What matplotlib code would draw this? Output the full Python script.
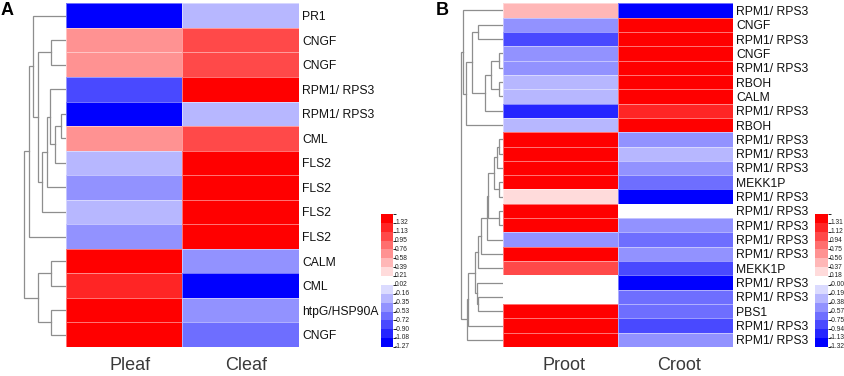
import numpy as np
import matplotlib
matplotlib.use('Agg')
import matplotlib.pyplot as plt
from matplotlib.colors import ListedColormap, BoundaryNorm
from matplotlib.colorbar import ColorbarBase

plt.rcParams['font.family'] = ['Liberation Sans', 'DejaVu Sans']

# ---- panel A (leaf) ----
genes_a = ['PR1', 'CNGF', 'CNGF', 'RPM1/ RPS3', 'RPM1/ RPS3', 'CML', 'FLS2', 'FLS2',
           'FLS2', 'FLS2', 'CALM', 'CML', 'htpG/HSP90A', 'CNGF']
pleaf = [-1.27, 0.58, 0.58, -0.90, -1.27, 0.58, -0.35, -0.53, -0.35, -0.53, 1.32, 1.13, 1.32, 1.32]
cleaf = [-0.35, 0.95, 0.95, 1.32, -0.35, 0.95, 1.32, 1.32, 1.32, 1.32, -0.53, -1.27, -0.53, -0.72]
cbar_a = ['1.32', '1.13', '0.95', '0.76', '0.58', '0.39', '0.21', '0.02',
          '-0.16', '-0.35', '-0.53', '-0.72', '-0.90', '-1.08', '-1.27']
# merges: (child, child, height); leaves 0..n-1, merge k -> n+k
tree_a = [(1, 2, 15), (4, 5, 5), (15, 6, 10.7), (3, 16, 15.7), (17, 7, 19), (18, 8, 24),
          (14, 19, 28), (0, 20, 32.3), (21, 9, 36.7), (10, 11, 15), (12, 13, 15),
          (23, 24, 28), (22, 25, 41.7)]

# ---- panel B (root) ----
genes_b = ['RPM1/ RPS3', 'CNGF', 'RPM1/ RPS3', 'CNGF', 'RPM1/ RPS3', 'RBOH', 'CALM',
           'RPM1/ RPS3', 'RBOH', 'RPM1/ RPS3', 'RPM1/ RPS3', 'RPM1/ RPS3', 'MEKK1P',
           'RPM1/ RPS3', 'RPM1/ RPS3', 'RPM1/ RPS3', 'RPM1/ RPS3', 'RPM1/ RPS3', 'MEKK1P',
           'RPM1/ RPS3', 'RPM1/ RPS3', 'PBS1', 'RPM1/ RPS3', 'RPM1/ RPS3']
proot = [0.37, -0.57, -0.94, -0.57, -0.57, -0.38, -0.38, -1.13, -0.38, 1.31, 1.31, 1.31,
         1.31, 0.18, 1.31, 1.31, -0.57, 1.31, 0.94, 0.0, 0.0, 1.31, 1.31, 1.31]
croot = [-1.32, 1.31, 1.31, 1.31, 1.31, 1.31, 1.31, 1.12, 1.31, -0.57, -0.38, -0.57,
         -0.75, -1.32, 0.0, -0.57, -0.75, -0.57, -0.94, -1.32, -0.75, -0.75, -0.94, -0.57]
cbar_b = ['1.31', '1.12', '0.94', '0.75', '0.56', '0.37', '0.18', '-0.00',
          '-0.19', '-0.38', '-0.57', '-0.75', '-0.94', '-1.13', '-1.32']
tree_b = [(1, 2, 25), (3, 4, 3.7), (5, 6, 3.7), (25, 26, 12), (27, 7, 18), (24, 28, 31),
          (29, 8, 37), (0, 30, 40), (9, 10, 3.7), (32, 11, 6.3), (12, 13, 3.7),
          (33, 34, 8.7), (14, 15, 3.7), (35, 36, 14.7), (37, 16, 16.3), (38, 17, 22),
          (39, 18, 24.7), (20, 21, 25.3), (19, 41, 26.5), (40, 42, 28), (43, 22, 34.7),
          (44, 23, 36.3), (31, 45, 42)]

W, H = 844, 376
fig = plt.figure(figsize=(W / 100, H / 100), dpi=100)


def px_axes(x0, y0, x1, y1):
    return fig.add_axes([x0 / W, 1 - y1 / H, (x1 - x0) / W, (y1 - y0) / H])


# discrete red-white-blue palette, 15 bands (top = red)
fr = np.linspace(0, 0.86, 7)
band_cols = [(1, f, f) for f in fr] + [(1, 1, 1)] + [(f, f, 1) for f in fr[::-1]]
cmap = ListedColormap(band_cols[::-1])


def make_norm(labels):
    vals = np.array([float(s) for s in labels])[::-1]
    d = np.mean(np.diff(vals))
    edges = np.concatenate([[vals[0] - d / 2], (vals[:-1] + vals[1:]) / 2, [vals[-1] + d / 2]])
    return BoundaryNorm(edges, cmap.N), edges, d


def heat(box, c1, c2, genes, cols, labels, xshift):
    ax = px_axes(*box)
    norm, edges, d = make_norm(labels)
    data = np.column_stack([c1, c2])
    ax.pcolormesh(data, cmap=cmap, norm=norm, edgecolors=(1, 1, 1, 0.45), linewidth=0.6)
    n = len(genes)
    ax.set_xlim(0, 2)
    ax.set_ylim(n, 0)
    for s in ax.spines.values():
        s.set_visible(False)
    ax.yaxis.tick_right()
    ax.set_yticks(np.arange(n) + 0.5)
    ax.set_yticklabels(genes, fontsize=8.7, color='#111111')
    ax.set_xticks(np.array([0.5, 1.5]) + xshift)
    ax.set_xticklabels(cols, fontsize=13, color='#3a3a3a')
    ax.tick_params(length=0)
    ax.tick_params(axis='y', pad=2.5)
    ax.tick_params(axis='x', pad=7.5)
    return ax, norm, edges, d


def dendro(box, tree, n, hmax):
    ax = px_axes(*box)
    ys = {i: i + 0.5 for i in range(n)}
    hs = {i: 0.0 for i in range(n)}
    for k, (a, b, h) in enumerate(tree):
        ax.plot([hs[a], h, h, hs[b]], [ys[a], ys[a], ys[b], ys[b]],
                color='#8e8e8e', lw=0.9, solid_joinstyle='miter')
        ys[n + k] = (ys[a] + ys[b]) / 2
        hs[n + k] = h
    ax.set_xlim(hmax, 0)
    ax.set_ylim(n, 0)
    ax.axis('off')


def cbar(box, labels, norm, edges, d):
    cax = px_axes(*box)
    cb = ColorbarBase(cax, cmap=cmap, norm=norm, orientation='vertical')
    cb.outline.set_visible(False)
    ticks = edges[:-1] + 0.13 * d
    cb.set_ticks(ticks)
    cb.set_ticklabels(labels[::-1])
    cax.tick_params(length=0, pad=1.5, labelsize=4.8, labelcolor='#222222')


# panel A
top, bot = 3.3, 347
ax_a, norm_a, edges_a, d_a = heat((65.7, top, 299, bot), pleaf, cleaf, genes_a,
                                  ['Pleaf', 'Cleaf'], cbar_a, 0.05)
dendro((20, top, 65.7, bot), tree_a, len(genes_a), 45.7)
cbar((381, 214, 393, 347), cbar_a, norm_a, edges_a, d_a)

# panel B
ax_b, norm_b, edges_b, d_b = heat((503, top, 733, bot), proot, croot, genes_b,
                                  ['Proot', 'Croot'], cbar_b, 0.03)
dendro((455, top, 503, bot), tree_b, len(genes_b), 48)
cbar((814.5, 214, 828, 347), cbar_b, norm_b, edges_b, d_b)

fig.text(1 / W, 1 - 2 / H, 'A', fontsize=13, fontweight='bold', va='top', ha='left')
fig.text(436 / W, 1 - 2 / H, 'B', fontsize=13, fontweight='bold', va='top', ha='left')

fig.savefig('out.png', dpi=100)
